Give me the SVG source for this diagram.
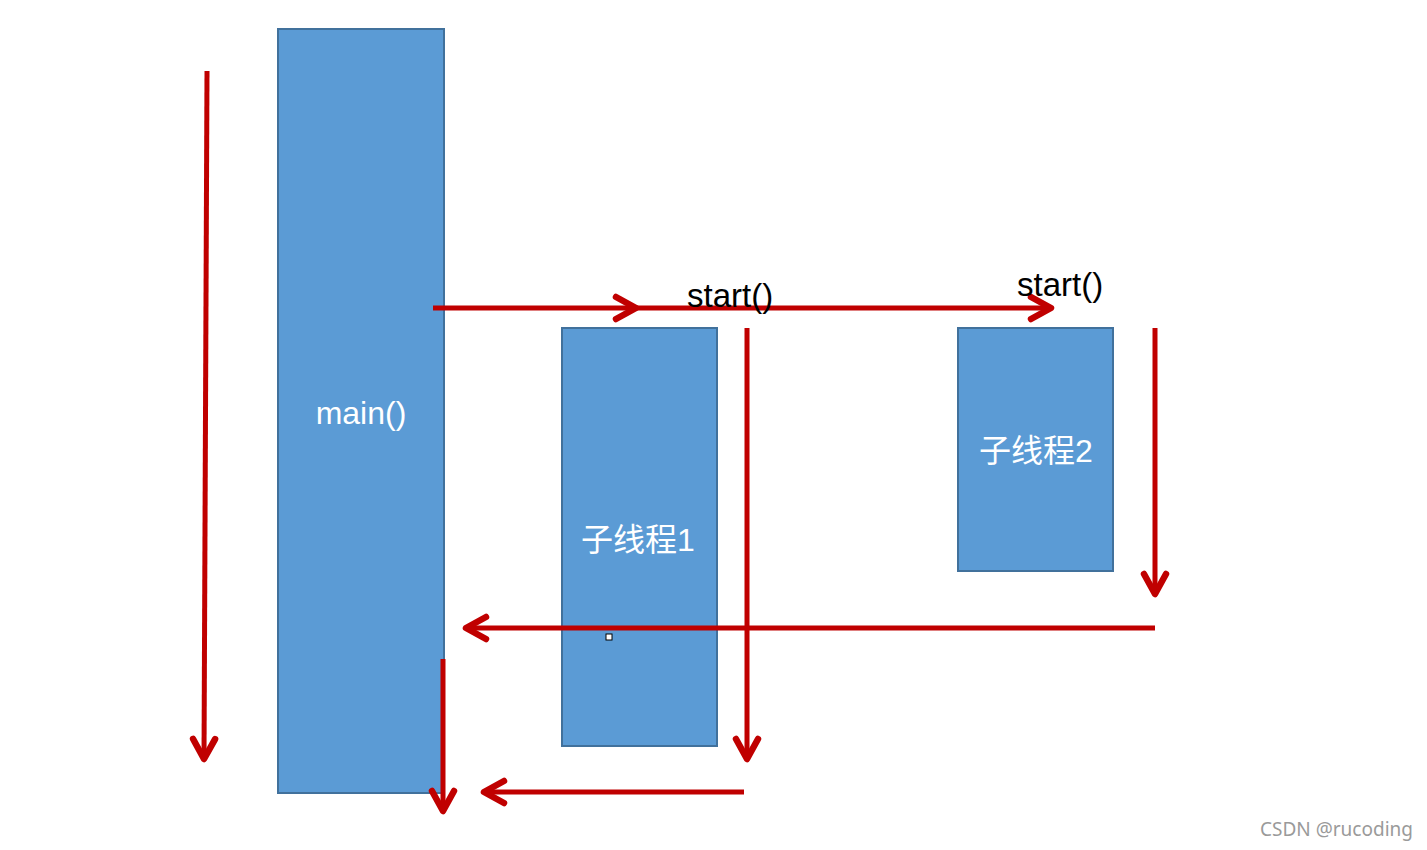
<svg xmlns="http://www.w3.org/2000/svg" width="1427" height="850" viewBox="0 0 1427 850">
<style>
.box{fill:#5B9BD5;stroke:#41719C;stroke-width:2}
.lbl{fill:#ffffff;font-family:"Liberation Sans","Noto Sans CJK SC",sans-serif;font-size:32px;text-anchor:middle}
.blk{fill:#000000;font-family:"Liberation Sans",sans-serif;font-size:33px}
.ln{stroke:#C00000;stroke-width:5;fill:none}
</style>
<defs>
<marker id="ah" markerUnits="userSpaceOnUse" orient="auto" refX="0" refY="0" markerWidth="30" markerHeight="30" overflow="visible">
<path d="M-20,-11 L0,0 L-20,11" fill="none" stroke="#C00000" stroke-width="6.5" stroke-linecap="round" stroke-linejoin="round"/>
</marker>
</defs>
<rect width="1427" height="850" fill="#ffffff"/>
<g id="main">
<rect class="box" x="278" y="29" width="166" height="764"/>
<text class="lbl" x="361" y="424">main()</text>
</g>
<g id="thread1">
<rect class="box" x="562" y="328" width="155" height="418"/>
<text class="lbl" x="638" y="551">子线程1</text>
</g>
<g id="thread2">
<rect class="box" x="958" y="328" width="155" height="243"/>
<text class="lbl" x="1036" y="462">子线程2</text>
</g>
<g id="connectors">
<line class="ln" x1="207" y1="71" x2="204" y2="759" marker-end="url(#ah)"/>
<line class="ln" x1="433" y1="308" x2="636" y2="308" marker-end="url(#ah)"/>
<line class="ln" x1="636" y1="308" x2="1051" y2="308" marker-end="url(#ah)"/>
<line class="ln" x1="747" y1="328" x2="747" y2="759" marker-end="url(#ah)"/>
<line class="ln" x1="1155" y1="328" x2="1155" y2="594" marker-end="url(#ah)"/>
<line class="ln" x1="1155" y1="628" x2="466" y2="628" marker-end="url(#ah)"/>
<line class="ln" x1="443" y1="659" x2="443" y2="811" marker-end="url(#ah)"/>
<line class="ln" x1="744" y1="792" x2="484" y2="792" marker-end="url(#ah)"/>
</g>
<text class="blk" x="687" y="307">start()</text>
<text class="blk" x="1017" y="296">start()</text>
<rect x="606" y="634" width="6" height="6" fill="#ffffff" stroke="#000000" stroke-width="1"/>
<text x="1260" y="836" fill="#9a9a9a" font-family="'Noto Sans',sans-serif" font-size="19px">CSDN @rucoding</text>
</svg>
